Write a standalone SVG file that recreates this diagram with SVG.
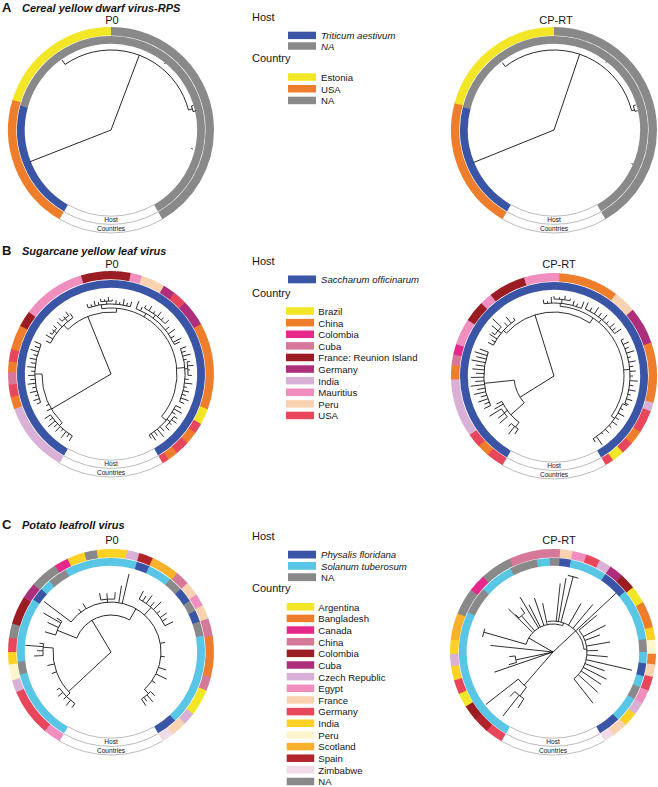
<svg xmlns="http://www.w3.org/2000/svg" width="658" height="787" viewBox="0 0 658 787">
<style>
text{font-family:"Liberation Sans",Arial,Helvetica,sans-serif;fill:#151515}
.pl{font-size:13px;font-weight:bold}
.ttl{font-size:11px;font-weight:bold;font-style:italic}
.sub{font-size:11px;text-anchor:middle}
.hd{font-size:11px}
.lg{font-size:9.6px}
.it{font-style:italic}
.rl{font-size:6.6px;text-anchor:middle}
circle.s{fill:none}
.c{stroke-width:8.4}
.h{stroke-width:7.8}
rect.sw{stroke:none}
.go{fill:none;stroke:#9a9a9a;stroke-width:0.6}
.t line,.t circle{stroke:#1a1a1a;stroke-width:0.85;fill:none}
.bl{stroke:#3b55a6;fill:#3b55a6}
.na{stroke:#898989;fill:#898989}
.yl{stroke:#f2e626;fill:#f2e626}
.or{stroke:#ee7e2b;fill:#ee7e2b}
.pk{stroke:#e6288b;fill:#e6288b}
.dp{stroke:#d6789a;fill:#d6789a}
.dr{stroke:#9b1c23;fill:#9b1c23}
.mg{stroke:#ad2e7a;fill:#ad2e7a}
.li{stroke:#dab1d6;fill:#dab1d6}
.mp{stroke:#ef8ebf;fill:#ef8ebf}
.pe{stroke:#f9d2b2;fill:#f9d2b2}
.rd{stroke:#e8465a;fill:#e8465a}
.cy{stroke:#5ac6e6;fill:#5ac6e6}
.gd{stroke:#fdd225;fill:#fdd225}
.cr{stroke:#fdf5cc;fill:#fdf5cc}
.sc{stroke:#f9b12b;fill:#f9b12b}
.sp{stroke:#b3232c;fill:#b3232c}
.zb{stroke:#f2dbe8;fill:#f2dbe8}
</style>

<!-- Titles -->
<g id="titles">
<text class="pl" x="2" y="12">A</text>
<text class="ttl" x="22" y="12">Cereal yellow dwarf virus-RPS</text>
<text class="sub" x="112" y="24">P0</text>
<text class="sub" x="556" y="23.5">CP-RT</text>
<text class="pl" x="2" y="255">B</text>
<text class="ttl" x="22" y="255">Sugarcane yellow leaf virus</text>
<text class="sub" x="112" y="268">P0</text>
<text class="sub" x="559" y="268">CP-RT</text>
<text class="pl" x="2" y="529">C</text>
<text class="ttl" x="22" y="529">Potato leafroll virus</text>
<text class="sub" x="112" y="544">P0</text>
<text class="sub" x="559" y="543.5">CP-RT</text>
</g>

<!-- Panel A, P0 -->
<g id="a-p0" transform="translate(111,130)">
<circle class="s c or" r="98.8" pathLength="360" stroke-dasharray="77.4 360" transform="rotate(120)"/>
<circle class="s c yl" r="98.8" pathLength="360" stroke-dasharray="73.4 360" transform="rotate(197)"/>
<circle class="s c na" r="98.8" pathLength="360" stroke-dasharray="150 360" transform="rotate(270)"/>
<circle class="s h bl" r="90.1" pathLength="360" stroke-dasharray="75.4 360" transform="rotate(120)"/>
<circle class="s h na" r="90.1" pathLength="360" stroke-dasharray="225 360" transform="rotate(195)"/>
<circle class="go" r="103" pathLength="360" stroke-dasharray="60 360" transform="rotate(60)"/>
<circle class="go" r="94.4" pathLength="360" stroke-dasharray="60 360" transform="rotate(60)"/>
<circle class="go" r="86.2" pathLength="360" stroke-dasharray="60 360" transform="rotate(60)"/>
<text class="rl" x="0" y="92.4">Host</text>
<text class="rl" x="0" y="101.1">Countries</text>
<g class="t">
<line x2="87" transform="rotate(158.6)"/>
<line x2="80" transform="rotate(290.7)"/>
<circle r="80" pathLength="360" stroke-dasharray="110.5 360" transform="rotate(235)"/>
<line x1="80" x2="85.5" transform="rotate(235)"/>
<line x1="80" x2="84" transform="rotate(345.5)"/>
<circle r="84" pathLength="360" stroke-dasharray="3.9 360" transform="rotate(343.4)"/>
<line x1="84" x2="86" transform="rotate(343.4)"/>
<line x1="84" x2="87" transform="rotate(347.3)"/>
<line x1="85" x2="86.5" transform="rotate(309)"/>
<line x1="82.5" x2="84" transform="rotate(13)"/>
</g>
</g>

<!-- Panel A, CP-RT -->
<g id="a-cprt" transform="translate(554,130)">
<circle class="s c or" r="98.8" pathLength="360" stroke-dasharray="75.4 360" transform="rotate(120)"/>
<circle class="s c yl" r="98.8" pathLength="360" stroke-dasharray="75.4 360" transform="rotate(195)"/>
<circle class="s c na" r="98.8" pathLength="360" stroke-dasharray="150 360" transform="rotate(270)"/>
<circle class="s h bl" r="90.1" pathLength="360" stroke-dasharray="74.4 360" transform="rotate(120)"/>
<circle class="s h na" r="90.1" pathLength="360" stroke-dasharray="226 360" transform="rotate(194)"/>
<circle class="go" r="103" pathLength="360" stroke-dasharray="60 360" transform="rotate(60)"/>
<circle class="go" r="94.4" pathLength="360" stroke-dasharray="60 360" transform="rotate(60)"/>
<circle class="go" r="86.2" pathLength="360" stroke-dasharray="60 360" transform="rotate(60)"/>
<text class="rl" x="0" y="92.4">Host</text>
<text class="rl" x="0" y="101.1">Countries</text>
<g class="t">
<line x2="87" transform="rotate(158)"/>
<line x2="80" transform="rotate(288.7)"/>
<circle r="80" pathLength="360" stroke-dasharray="113.5 360" transform="rotate(232.5)"/>
<line x1="80" x2="85" transform="rotate(232.5)"/>
<line x1="80" x2="83" transform="rotate(346)"/>
<circle r="83" pathLength="360" stroke-dasharray="4 360" transform="rotate(343)"/>
<line x1="83" x2="85.5" transform="rotate(343)"/>
<line x1="83" x2="86" transform="rotate(347)"/>
<line x1="85" x2="86.5" transform="rotate(307.6)"/>
<line x1="84.5" x2="86" transform="rotate(23.4)"/>
</g>
</g>

<!-- Legend A -->
<g id="legend-a">
<text class="hd" x="252" y="21">Host</text>
<rect class="sw bl" x="288" y="31.7" width="28" height="7.4"/>
<text class="lg it" x="321" y="39">Triticum aestivum</text>
<rect class="sw na" x="288" y="42.3" width="28" height="7.4"/>
<text class="lg it" x="321" y="49.6">NA</text>
<text class="hd" x="252" y="62">Country</text>
<rect class="sw yl" x="288" y="73.3" width="28" height="7.5"/>
<text class="lg" x="321" y="80.8">Estonia</text>
<rect class="sw or" x="288" y="85" width="28" height="7.5"/>
<text class="lg" x="321" y="92.5">USA</text>
<rect class="sw na" x="288" y="96.7" width="28" height="7.5"/>
<text class="lg" x="321" y="104.2">NA</text>
</g>

<!-- Panel B, P0 -->
<g id="b-p0" transform="translate(111,374)">
<circle class="s c li" r="98.8" pathLength="360" stroke-dasharray="40.4 360" transform="rotate(120)"/>
<circle class="s c or" r="98.8" pathLength="360" stroke-dasharray="7.4 360" transform="rotate(160)"/>
<circle class="s c rd" r="98.8" pathLength="360" stroke-dasharray="7.4 360" transform="rotate(167)"/>
<circle class="s c dp" r="98.8" pathLength="360" stroke-dasharray="7.4 360" transform="rotate(174)"/>
<circle class="s c or" r="98.8" pathLength="360" stroke-dasharray="6.4 360" transform="rotate(181)"/>
<circle class="s c rd" r="98.8" pathLength="360" stroke-dasharray="7.4 360" transform="rotate(187)"/>
<circle class="s c or" r="98.8" pathLength="360" stroke-dasharray="14.4 360" transform="rotate(194)"/>
<circle class="s c dr" r="98.8" pathLength="360" stroke-dasharray="9.4 360" transform="rotate(208)"/>
<circle class="s c mp" r="98.8" pathLength="360" stroke-dasharray="36.4 360" transform="rotate(217)"/>
<circle class="s c dr" r="98.8" pathLength="360" stroke-dasharray="28.4 360" transform="rotate(253)"/>
<circle class="s c mp" r="98.8" pathLength="360" stroke-dasharray="6.9 360" transform="rotate(281)"/>
<circle class="s c pe" r="98.8" pathLength="360" stroke-dasharray="13.9 360" transform="rotate(287.5)"/>
<circle class="s c mg" r="98.8" pathLength="360" stroke-dasharray="7.4 360" transform="rotate(301)"/>
<circle class="s c rd" r="98.8" pathLength="360" stroke-dasharray="8.4 360" transform="rotate(308)"/>
<circle class="s c mg" r="98.8" pathLength="360" stroke-dasharray="15.4 360" transform="rotate(316)"/>
<circle class="s c or" r="98.8" pathLength="360" stroke-dasharray="49.4 360" transform="rotate(331)"/>
<circle class="s c yl" r="98.8" pathLength="360" stroke-dasharray="9.4 360" transform="rotate(20)"/>
<circle class="s c rd" r="98.8" pathLength="360" stroke-dasharray="6.4 360" transform="rotate(29)"/>
<circle class="s c or" r="98.8" pathLength="360" stroke-dasharray="7.4 360" transform="rotate(35)"/>
<circle class="s c rd" r="98.8" pathLength="360" stroke-dasharray="8.4 360" transform="rotate(42)"/>
<circle class="s c or" r="98.8" pathLength="360" stroke-dasharray="6.4 360" transform="rotate(50)"/>
<circle class="s c rd" r="98.8" pathLength="360" stroke-dasharray="4 360" transform="rotate(56)"/>
<circle class="s h bl" r="90.1" pathLength="360" stroke-dasharray="300 360" transform="rotate(120)"/>
<circle class="go" r="103" pathLength="360" stroke-dasharray="60 360" transform="rotate(60)"/>
<circle class="go" r="94.4" pathLength="360" stroke-dasharray="60 360" transform="rotate(60)"/>
<circle class="go" r="86.2" pathLength="360" stroke-dasharray="60 360" transform="rotate(60)"/>
<text class="rl" x="0" y="92.4">Host</text>
<text class="rl" x="0" y="101.1">Countries</text>
<g class="t">
<line x2="62" transform="rotate(248)"/>
<line x2="69" transform="rotate(149.5)"/>
<circle r="62" pathLength="360" stroke-dasharray="49 360" transform="rotate(226)"/>
<line x1="62" x2="68" transform="rotate(226)"/>
<circle r="68" pathLength="360" stroke-dasharray="29 360" transform="rotate(207)"/>
<line x1="68" x2="73" transform="rotate(207)"/>
<line x1="68" x2="76" transform="rotate(211)"/>
<line x1="68" x2="71" transform="rotate(217)"/>
<line x1="68" x2="75" transform="rotate(224)"/>
<line x1="68" x2="72" transform="rotate(230.5)"/>
<line x1="68" x2="73" transform="rotate(236)"/>
<circle r="71" pathLength="360" stroke-dasharray="6 360" transform="rotate(214)"/>
<line x1="71" x2="74" transform="rotate(214)"/>
<line x1="71" x2="73.5" transform="rotate(217)"/>
<line x1="71" x2="75" transform="rotate(220)"/>
<circle r="72" pathLength="360" stroke-dasharray="7 360" transform="rotate(227)"/>
<line x1="72" x2="76" transform="rotate(227)"/>
<line x1="72" x2="74.5" transform="rotate(230.5)"/>
<line x1="72" x2="77" transform="rotate(234)"/>
<line x1="62" x2="66" transform="rotate(275)"/>
<circle r="66" pathLength="360" stroke-dasharray="138 360" transform="rotate(262)"/>
<line x1="66" x2="70" transform="rotate(262)"/>
<circle r="70" pathLength="360" stroke-dasharray="35 360" transform="rotate(251)"/>
<line x1="70" x2="74" transform="rotate(251)"/>
<line x1="70" x2="72.5" transform="rotate(254)"/>
<line x1="70" x2="75" transform="rotate(257)"/>
<line x1="70" x2="73" transform="rotate(260)"/>
<line x1="70" x2="73" transform="rotate(266.5)"/>
<line x1="70" x2="74" transform="rotate(274)"/>
<line x1="70" x2="72.5" transform="rotate(277)"/>
<line x1="70" x2="76" transform="rotate(280)"/>
<line x1="70" x2="73" transform="rotate(283)"/>
<line x1="70" x2="75" transform="rotate(286)"/>
<circle r="73" pathLength="360" stroke-dasharray="9 360" transform="rotate(262)"/>
<line x1="73" x2="76" transform="rotate(262)"/>
<line x1="73" x2="75" transform="rotate(265)"/>
<line x1="73" x2="77" transform="rotate(268)"/>
<line x1="73" x2="74.5" transform="rotate(271)"/>
<line x1="66" x2="70" transform="rotate(300)"/>
<circle r="70" pathLength="360" stroke-dasharray="44 360" transform="rotate(291)"/>
<line x1="70" x2="78" transform="rotate(291)"/>
<line x1="70" x2="74" transform="rotate(295)"/>
<line x1="70" x2="74" transform="rotate(307)"/>
<line x1="70" x2="75" transform="rotate(321)"/>
<line x1="70" x2="78" transform="rotate(325)"/>
<line x1="70" x2="74" transform="rotate(329)"/>
<line x1="70" x2="79" transform="rotate(333)"/>
<line x1="70" x2="76" transform="rotate(335)"/>
<circle r="74" pathLength="360" stroke-dasharray="20 360" transform="rotate(297)"/>
<line x1="74" x2="77" transform="rotate(297)"/>
<line x1="74" x2="79" transform="rotate(301)"/>
<line x1="74" x2="76.5" transform="rotate(305)"/>
<line x1="74" x2="80" transform="rotate(309)"/>
<line x1="74" x2="77" transform="rotate(313)"/>
<line x1="74" x2="79" transform="rotate(317)"/>
<line x1="66" x2="74" transform="rotate(355)"/>
<circle r="74" pathLength="360" stroke-dasharray="42 360" transform="rotate(340)"/>
<line x1="74" x2="80" transform="rotate(340)"/>
<line x1="74" x2="78" transform="rotate(343)"/>
<line x1="74" x2="82" transform="rotate(346)"/>
<line x1="74" x2="77" transform="rotate(349)"/>
<line x1="74" x2="77" transform="rotate(356)"/>
<line x1="74" x2="78" transform="rotate(4)"/>
<line x1="74" x2="82" transform="rotate(7)"/>
<line x1="74" x2="77" transform="rotate(10)"/>
<line x1="74" x2="80" transform="rotate(13)"/>
<line x1="74" x2="78" transform="rotate(16)"/>
<line x1="74" x2="82" transform="rotate(19)"/>
<line x1="74" x2="79" transform="rotate(22)"/>
<circle r="77" pathLength="360" stroke-dasharray="10 360" transform="rotate(351)"/>
<line x1="77" x2="80" transform="rotate(351)"/>
<line x1="77" x2="83" transform="rotate(354)"/>
<line x1="77" x2="79" transform="rotate(357)"/>
<line x1="77" x2="81" transform="rotate(1)"/>
<line x1="66" x2="72" transform="rotate(40)"/>
<circle r="72" pathLength="360" stroke-dasharray="32 360" transform="rotate(26)"/>
<line x1="72" x2="78" transform="rotate(26)"/>
<line x1="72" x2="81" transform="rotate(29)"/>
<line x1="72" x2="76" transform="rotate(32)"/>
<line x1="72" x2="76" transform="rotate(39)"/>
<line x1="72" x2="78" transform="rotate(47)"/>
<line x1="72" x2="82" transform="rotate(50)"/>
<line x1="72" x2="77" transform="rotate(53)"/>
<line x1="72" x2="80" transform="rotate(56)"/>
<line x1="72" x2="76" transform="rotate(58)"/>
<circle r="76" pathLength="360" stroke-dasharray="10 360" transform="rotate(34)"/>
<line x1="76" x2="80" transform="rotate(34)"/>
<line x1="76" x2="82" transform="rotate(37)"/>
<line x1="76" x2="79" transform="rotate(40)"/>
<line x1="76" x2="81" transform="rotate(44)"/>
<circle r="69" pathLength="360" stroke-dasharray="45 360" transform="rotate(135)"/>
<line x1="69" x2="76" transform="rotate(180)"/>
<circle r="76" pathLength="360" stroke-dasharray="45 360" transform="rotate(158)"/>
<line x1="76" x2="80" transform="rotate(158)"/>
<line x1="76" x2="82" transform="rotate(161)"/>
<line x1="76" x2="79" transform="rotate(164)"/>
<line x1="76" x2="83" transform="rotate(167)"/>
<line x1="76" x2="80" transform="rotate(170)"/>
<line x1="76" x2="84" transform="rotate(173)"/>
<line x1="76" x2="81" transform="rotate(176)"/>
<line x1="76" x2="83" transform="rotate(179)"/>
<line x1="76" x2="80" transform="rotate(182)"/>
<line x1="76" x2="84" transform="rotate(185)"/>
<line x1="76" x2="81" transform="rotate(188)"/>
<line x1="76" x2="83" transform="rotate(191)"/>
<line x1="76" x2="80" transform="rotate(194)"/>
<line x1="76" x2="84" transform="rotate(197)"/>
<line x1="76" x2="81" transform="rotate(200)"/>
<line x1="76" x2="83" transform="rotate(203)"/>
<line x1="69" x2="73" transform="rotate(135)"/>
<circle r="73" pathLength="360" stroke-dasharray="24 360" transform="rotate(122)"/>
<line x1="73" x2="79" transform="rotate(122)"/>
<line x1="73" x2="77" transform="rotate(125)"/>
<line x1="73" x2="81" transform="rotate(128)"/>
<line x1="73" x2="76" transform="rotate(131)"/>
<line x1="73" x2="80" transform="rotate(134)"/>
<line x1="73" x2="78" transform="rotate(137)"/>
<line x1="73" x2="82" transform="rotate(140)"/>
<line x1="73" x2="77" transform="rotate(143)"/>
<line x1="73" x2="80" transform="rotate(146)"/>
<line x1="69" x2="74" transform="rotate(150)"/>
<line x1="69" x2="72" transform="rotate(154)"/>
</g>
</g>

<!-- Panel B, CP-RT -->
<g id="b-cprt" transform="translate(554,376)">
<circle class="s c rd" r="98.8" pathLength="360" stroke-dasharray="10.4 360" transform="rotate(120)"/>
<circle class="s c or" r="98.8" pathLength="360" stroke-dasharray="7.4 360" transform="rotate(130)"/>
<circle class="s c rd" r="98.8" pathLength="360" stroke-dasharray="8.4 360" transform="rotate(137)"/>
<circle class="s c li" r="98.8" pathLength="360" stroke-dasharray="33.4 360" transform="rotate(145)"/>
<circle class="s c or" r="98.8" pathLength="360" stroke-dasharray="8.4 360" transform="rotate(178)"/>
<circle class="s c dp" r="98.8" pathLength="360" stroke-dasharray="6.4 360" transform="rotate(186)"/>
<circle class="s c pk" r="98.8" pathLength="360" stroke-dasharray="6.4 360" transform="rotate(192)"/>
<circle class="s c mp" r="98.8" pathLength="360" stroke-dasharray="15.4 360" transform="rotate(198)"/>
<circle class="s c dr" r="98.8" pathLength="360" stroke-dasharray="12.4 360" transform="rotate(213)"/>
<circle class="s c mp" r="98.8" pathLength="360" stroke-dasharray="7.4 360" transform="rotate(225)"/>
<circle class="s c dr" r="98.8" pathLength="360" stroke-dasharray="21.4 360" transform="rotate(232)"/>
<circle class="s c mp" r="98.8" pathLength="360" stroke-dasharray="20.4 360" transform="rotate(253)"/>
<circle class="s c or" r="98.8" pathLength="360" stroke-dasharray="34.4 360" transform="rotate(273)"/>
<circle class="s c pe" r="98.8" pathLength="360" stroke-dasharray="13.4 360" transform="rotate(307)"/>
<circle class="s c mg" r="98.8" pathLength="360" stroke-dasharray="21.4 360" transform="rotate(320)"/>
<circle class="s c or" r="98.8" pathLength="360" stroke-dasharray="34.4 360" transform="rotate(341)"/>
<circle class="s c li" r="98.8" pathLength="360" stroke-dasharray="5.4 360" transform="rotate(15)"/>
<circle class="s c rd" r="98.8" pathLength="360" stroke-dasharray="13.4 360" transform="rotate(20)"/>
<circle class="s c or" r="98.8" pathLength="360" stroke-dasharray="8.4 360" transform="rotate(33)"/>
<circle class="s c rd" r="98.8" pathLength="360" stroke-dasharray="7.4 360" transform="rotate(41)"/>
<circle class="s c yl" r="98.8" pathLength="360" stroke-dasharray="7.4 360" transform="rotate(48)"/>
<circle class="s c rd" r="98.8" pathLength="360" stroke-dasharray="5 360" transform="rotate(55)"/>
<circle class="s h bl" r="90.1" pathLength="360" stroke-dasharray="300 360" transform="rotate(120)"/>
<circle class="go" r="103" pathLength="360" stroke-dasharray="60 360" transform="rotate(60)"/>
<circle class="go" r="94.4" pathLength="360" stroke-dasharray="60 360" transform="rotate(60)"/>
<circle class="go" r="86.2" pathLength="360" stroke-dasharray="60 360" transform="rotate(60)"/>
<text class="rl" x="0" y="92.4">Host</text>
<text class="rl" x="0" y="101.1">Countries</text>
<g class="t">
<line x2="64" transform="rotate(252.7)"/>
<line x2="40" transform="rotate(148)"/>
<circle r="40" pathLength="360" stroke-dasharray="36 360" transform="rotate(138)"/>
<line x1="40" x2="58" transform="rotate(138)"/>
<circle r="58" pathLength="360" stroke-dasharray="27 360" transform="rotate(127)"/>
<line x1="58" x2="64" transform="rotate(127)"/>
<circle r="64" pathLength="360" stroke-dasharray="8 360" transform="rotate(124)"/>
<line x1="64" x2="70" transform="rotate(124)"/>
<line x1="64" x2="74" transform="rotate(128)"/>
<line x1="64" x2="68" transform="rotate(132)"/>
<line x1="58" x2="62" transform="rotate(143.5)"/>
<circle r="62" pathLength="360" stroke-dasharray="9 360" transform="rotate(139)"/>
<line x1="62" x2="72" transform="rotate(139)"/>
<line x1="62" x2="70" transform="rotate(143)"/>
<line x1="62" x2="76" transform="rotate(148)"/>
<line x1="58" x2="68" transform="rotate(151)"/>
<line x1="58" x2="64" transform="rotate(154)"/>
<line x1="40" x2="70" transform="rotate(174)"/>
<circle r="70" pathLength="360" stroke-dasharray="45 360" transform="rotate(155)"/>
<line x1="70" x2="77" transform="rotate(155)"/>
<line x1="70" x2="75" transform="rotate(158)"/>
<line x1="70" x2="80" transform="rotate(161)"/>
<line x1="70" x2="76" transform="rotate(164)"/>
<line x1="70" x2="82" transform="rotate(167)"/>
<line x1="70" x2="78" transform="rotate(170)"/>
<line x1="70" x2="84" transform="rotate(173)"/>
<line x1="70" x2="79" transform="rotate(176)"/>
<line x1="70" x2="83" transform="rotate(179)"/>
<line x1="70" x2="78" transform="rotate(182)"/>
<line x1="70" x2="82" transform="rotate(185)"/>
<line x1="70" x2="79" transform="rotate(188)"/>
<line x1="70" x2="84" transform="rotate(191)"/>
<line x1="70" x2="80" transform="rotate(194)"/>
<line x1="70" x2="83" transform="rotate(197)"/>
<line x1="70" x2="79" transform="rotate(200)"/>
<circle r="64" pathLength="360" stroke-dasharray="82 360" transform="rotate(222)"/>
<line x1="64" x2="68" transform="rotate(222)"/>
<circle r="68" pathLength="360" stroke-dasharray="28 360" transform="rotate(207)"/>
<line x1="68" x2="74" transform="rotate(207)"/>
<line x1="68" x2="72" transform="rotate(210)"/>
<line x1="68" x2="77" transform="rotate(213)"/>
<line x1="68" x2="72" transform="rotate(219)"/>
<line x1="68" x2="73" transform="rotate(227)"/>
<line x1="68" x2="76" transform="rotate(231)"/>
<line x1="68" x2="71" transform="rotate(235)"/>
<circle r="72" pathLength="360" stroke-dasharray="8 360" transform="rotate(215)"/>
<line x1="72" x2="76" transform="rotate(215)"/>
<line x1="72" x2="80" transform="rotate(219)"/>
<line x1="72" x2="84" transform="rotate(223)"/>
<line x1="64" x2="70" transform="rotate(304)"/>
<circle r="70" pathLength="360" stroke-dasharray="120 360" transform="rotate(275)"/>
<line x1="70" x2="73" transform="rotate(275)"/>
<circle r="73" pathLength="360" stroke-dasharray="30 360" transform="rotate(262)"/>
<line x1="73" x2="77" transform="rotate(262)"/>
<line x1="73" x2="75" transform="rotate(265)"/>
<line x1="73" x2="79" transform="rotate(268)"/>
<line x1="73" x2="77" transform="rotate(276)"/>
<line x1="73" x2="78" transform="rotate(285)"/>
<line x1="73" x2="76" transform="rotate(288)"/>
<line x1="73" x2="80" transform="rotate(292)"/>
<circle r="77" pathLength="360" stroke-dasharray="12 360" transform="rotate(270)"/>
<line x1="77" x2="80" transform="rotate(270)"/>
<line x1="77" x2="79" transform="rotate(274)"/>
<line x1="77" x2="81" transform="rotate(278)"/>
<line x1="77" x2="79" transform="rotate(282)"/>
<line x1="70" x2="74" transform="rotate(310)"/>
<circle r="74" pathLength="360" stroke-dasharray="30 360" transform="rotate(295)"/>
<line x1="74" x2="81" transform="rotate(295)"/>
<line x1="74" x2="78" transform="rotate(299)"/>
<line x1="74" x2="82" transform="rotate(303)"/>
<line x1="74" x2="79" transform="rotate(307)"/>
<line x1="74" x2="81" transform="rotate(311)"/>
<line x1="74" x2="77" transform="rotate(315)"/>
<line x1="74" x2="80" transform="rotate(319)"/>
<line x1="74" x2="78" transform="rotate(322)"/>
<line x1="74" x2="82" transform="rotate(325)"/>
<line x1="70" x2="76" transform="rotate(355)"/>
<circle r="76" pathLength="360" stroke-dasharray="49 360" transform="rotate(332)"/>
<line x1="76" x2="79" transform="rotate(332)"/>
<line x1="76" x2="82" transform="rotate(335.5)"/>
<line x1="76" x2="80" transform="rotate(339)"/>
<line x1="76" x2="84" transform="rotate(342.5)"/>
<line x1="76" x2="79" transform="rotate(346)"/>
<line x1="76" x2="83" transform="rotate(349.5)"/>
<line x1="76" x2="80" transform="rotate(353)"/>
<line x1="76" x2="82" transform="rotate(356.5)"/>
<line x1="76" x2="79" transform="rotate(0)"/>
<line x1="76" x2="84" transform="rotate(3.5)"/>
<line x1="76" x2="80" transform="rotate(7)"/>
<line x1="76" x2="83" transform="rotate(10.5)"/>
<line x1="76" x2="79" transform="rotate(14)"/>
<line x1="76" x2="82" transform="rotate(17.5)"/>
<line x1="76" x2="80" transform="rotate(21)"/>
<line x1="70" x2="74" transform="rotate(35)"/>
<circle r="74" pathLength="360" stroke-dasharray="36 360" transform="rotate(22)"/>
<line x1="74" x2="79" transform="rotate(22)"/>
<line x1="74" x2="77" transform="rotate(26)"/>
<line x1="74" x2="81" transform="rotate(30)"/>
<line x1="74" x2="78" transform="rotate(34)"/>
<line x1="74" x2="80" transform="rotate(38)"/>
<line x1="74" x2="77" transform="rotate(42)"/>
<line x1="74" x2="79" transform="rotate(46)"/>
<line x1="74" x2="76" transform="rotate(50)"/>
<line x1="74" x2="84" transform="rotate(55)"/>
<line x1="74" x2="78" transform="rotate(58)"/>
</g>
</g>

<!-- Legend B -->
<g id="legend-b">
<text class="hd" x="252" y="265">Host</text>
<rect class="sw bl" x="288" y="275.5" width="28" height="7.8"/>
<text class="lg it" x="321" y="283.3">Saccharum officinarum</text>
<text class="hd" x="252" y="297">Country</text>
<rect class="sw yl" x="286" y="307.3" width="28" height="7.5"/>
<text class="lg" x="318.3" y="314.9">Brazil</text>
<rect class="sw or" x="286" y="318.9" width="28" height="7.5"/>
<text class="lg" x="318.3" y="326.5">China</text>
<rect class="sw pk" x="286" y="330.5" width="28" height="7.5"/>
<text class="lg" x="318.3" y="338.1">Colombia</text>
<rect class="sw dp" x="286" y="342.1" width="28" height="7.5"/>
<text class="lg" x="318.3" y="349.7">Cuba</text>
<rect class="sw dr" x="286" y="353.7" width="28" height="7.5"/>
<text class="lg" x="318.3" y="361.3">France: Reunion Island</text>
<rect class="sw mg" x="286" y="365.3" width="28" height="7.5"/>
<text class="lg" x="318.3" y="372.9">Germany</text>
<rect class="sw li" x="286" y="376.9" width="28" height="7.5"/>
<text class="lg" x="318.3" y="384.5">India</text>
<rect class="sw mp" x="286" y="388.5" width="28" height="7.5"/>
<text class="lg" x="318.3" y="396.1">Mauritius</text>
<rect class="sw pe" x="286" y="400.1" width="28" height="7.5"/>
<text class="lg" x="318.3" y="407.7">Peru</text>
<rect class="sw rd" x="286" y="411.7" width="28" height="7.5"/>
<text class="lg" x="318.3" y="419.3">USA</text>
</g>

<!-- Panel C, P0 -->
<g id="c-p0" transform="translate(111,652)">
<circle class="s c mp" r="98.8" pathLength="360" stroke-dasharray="10.4 360" transform="rotate(120)"/>
<circle class="s c rd" r="98.8" pathLength="360" stroke-dasharray="27.4 360" transform="rotate(130)"/>
<circle class="s c li" r="98.8" pathLength="360" stroke-dasharray="7.4 360" transform="rotate(157)"/>
<circle class="s c cr" r="98.8" pathLength="360" stroke-dasharray="9.4 360" transform="rotate(164)"/>
<circle class="s c gd" r="98.8" pathLength="360" stroke-dasharray="7.4 360" transform="rotate(173)"/>
<circle class="s c rd" r="98.8" pathLength="360" stroke-dasharray="8.4 360" transform="rotate(180)"/>
<circle class="s c na" r="98.8" pathLength="360" stroke-dasharray="8.4 360" transform="rotate(188)"/>
<circle class="s c dr" r="98.8" pathLength="360" stroke-dasharray="16.4 360" transform="rotate(196)"/>
<circle class="s c mg" r="98.8" pathLength="360" stroke-dasharray="9.4 360" transform="rotate(212)"/>
<circle class="s c na" r="98.8" pathLength="360" stroke-dasharray="16.4 360" transform="rotate(221)"/>
<circle class="s c pk" r="98.8" pathLength="360" stroke-dasharray="8.4 360" transform="rotate(237)"/>
<circle class="s c gd" r="98.8" pathLength="360" stroke-dasharray="10.4 360" transform="rotate(245)"/>
<circle class="s c na" r="98.8" pathLength="360" stroke-dasharray="7.4 360" transform="rotate(255)"/>
<circle class="s c gd" r="98.8" pathLength="360" stroke-dasharray="17.4 360" transform="rotate(262)"/>
<circle class="s c li" r="98.8" pathLength="360" stroke-dasharray="7.4 360" transform="rotate(279)"/>
<circle class="s c sp" r="98.8" pathLength="360" stroke-dasharray="8.4 360" transform="rotate(286)"/>
<circle class="s c sc" r="98.8" pathLength="360" stroke-dasharray="16.4 360" transform="rotate(294)"/>
<circle class="s c dp" r="98.8" pathLength="360" stroke-dasharray="8.4 360" transform="rotate(310)"/>
<circle class="s c pe" r="98.8" pathLength="360" stroke-dasharray="8.4 360" transform="rotate(318)"/>
<circle class="s c mp" r="98.8" pathLength="360" stroke-dasharray="7.4 360" transform="rotate(326)"/>
<circle class="s c pe" r="98.8" pathLength="360" stroke-dasharray="8.4 360" transform="rotate(333)"/>
<circle class="s c dp" r="98.8" pathLength="360" stroke-dasharray="10.4 360" transform="rotate(341)"/>
<circle class="s c or" r="98.8" pathLength="360" stroke-dasharray="23.4 360" transform="rotate(351)"/>
<circle class="s c dp" r="98.8" pathLength="360" stroke-dasharray="8.4 360" transform="rotate(14)"/>
<circle class="s c yl" r="98.8" pathLength="360" stroke-dasharray="15.4 360" transform="rotate(22)"/>
<circle class="s c li" r="98.8" pathLength="360" stroke-dasharray="7.4 360" transform="rotate(37)"/>
<circle class="s c pe" r="98.8" pathLength="360" stroke-dasharray="9.4 360" transform="rotate(44)"/>
<circle class="s c zb" r="98.8" pathLength="360" stroke-dasharray="7 360" transform="rotate(53)"/>
<circle class="s h cy" r="90.1" pathLength="360" stroke-dasharray="46.4 360" transform="rotate(120)"/>
<circle class="s h na" r="90.1" pathLength="360" stroke-dasharray="8.4 360" transform="rotate(166)"/>
<circle class="s h cy" r="90.1" pathLength="360" stroke-dasharray="40.4 360" transform="rotate(174)"/>
<circle class="s h bl" r="90.1" pathLength="360" stroke-dasharray="8.4 360" transform="rotate(214)"/>
<circle class="s h cy" r="90.1" pathLength="360" stroke-dasharray="7.4 360" transform="rotate(222)"/>
<circle class="s h na" r="90.1" pathLength="360" stroke-dasharray="12.4 360" transform="rotate(229)"/>
<circle class="s h cy" r="90.1" pathLength="360" stroke-dasharray="45.4 360" transform="rotate(241)"/>
<circle class="s h bl" r="90.1" pathLength="360" stroke-dasharray="8.4 360" transform="rotate(286)"/>
<circle class="s h cy" r="90.1" pathLength="360" stroke-dasharray="15.4 360" transform="rotate(294)"/>
<circle class="s h na" r="90.1" pathLength="360" stroke-dasharray="9.4 360" transform="rotate(309)"/>
<circle class="s h bl" r="90.1" pathLength="360" stroke-dasharray="9.4 360" transform="rotate(318)"/>
<circle class="s h na" r="90.1" pathLength="360" stroke-dasharray="7.4 360" transform="rotate(327)"/>
<circle class="s h bl" r="90.1" pathLength="360" stroke-dasharray="7.4 360" transform="rotate(334)"/>
<circle class="s h na" r="90.1" pathLength="360" stroke-dasharray="9.4 360" transform="rotate(341)"/>
<circle class="s h cy" r="90.1" pathLength="360" stroke-dasharray="57.4 360" transform="rotate(350)"/>
<circle class="s h bl" r="90.1" pathLength="360" stroke-dasharray="13 360" transform="rotate(47)"/>
<circle class="go" r="103" pathLength="360" stroke-dasharray="60 360" transform="rotate(60)"/>
<circle class="go" r="94.4" pathLength="360" stroke-dasharray="60 360" transform="rotate(60)"/>
<circle class="go" r="86.2" pathLength="360" stroke-dasharray="60 360" transform="rotate(60)"/>
<text class="rl" x="0" y="92.4">Host</text>
<text class="rl" x="0" y="101.1">Countries</text>
<g class="t">
<line x2="37" transform="rotate(239)"/>
<circle r="37" pathLength="360" stroke-dasharray="98 360" transform="rotate(202)"/>
<line x1="37" x2="58" transform="rotate(202)"/>
<circle r="58" pathLength="360" stroke-dasharray="15 360" transform="rotate(197)"/>
<line x1="58" x2="69" transform="rotate(197)"/>
<line x1="58" x2="70" transform="rotate(205)"/>
<line x1="58" x2="78" transform="rotate(210)"/>
<line x1="58" x2="64" transform="rotate(212)"/>
<line x1="37" x2="50" transform="rotate(300)"/>
<circle r="50" pathLength="360" stroke-dasharray="191 360" transform="rotate(217)"/>
<line x1="50" x2="84" transform="rotate(217)"/>
<line x1="50" x2="54" transform="rotate(233)"/>
<line x1="50" x2="56" transform="rotate(240)"/>
<line x1="50" x2="53" transform="rotate(266)"/>
<circle r="53" pathLength="360" stroke-dasharray="15 360" transform="rotate(259)"/>
<line x1="53" x2="60" transform="rotate(259)"/>
<line x1="53" x2="59" transform="rotate(266)"/>
<line x1="53" x2="60" transform="rotate(274)"/>
<line x1="50" x2="67" transform="rotate(279)"/>
<line x1="50" x2="80" transform="rotate(283)"/>
<line x1="50" x2="60" transform="rotate(312)"/>
<circle r="60" pathLength="360" stroke-dasharray="36 360" transform="rotate(298)"/>
<line x1="60" x2="69" transform="rotate(298)"/>
<line x1="60" x2="66" transform="rotate(302)"/>
<line x1="60" x2="70" transform="rotate(306)"/>
<line x1="60" x2="66" transform="rotate(311)"/>
<line x1="60" x2="71" transform="rotate(315)"/>
<line x1="60" x2="64" transform="rotate(320)"/>
<line x1="60" x2="68" transform="rotate(325)"/>
<line x1="60" x2="65" transform="rotate(329)"/>
<line x1="60" x2="69" transform="rotate(334)"/>
<line x1="50" x2="55" transform="rotate(350)"/>
<line x1="50" x2="54" transform="rotate(5)"/>
<line x1="50" x2="58" transform="rotate(18)"/>
<line x1="50" x2="62" transform="rotate(26)"/>
<line x1="50" x2="54" transform="rotate(35)"/>
<line x1="50" x2="56" transform="rotate(48)"/>
<circle r="56" pathLength="360" stroke-dasharray="12 360" transform="rotate(45)"/>
<line x1="56" x2="62" transform="rotate(45)"/>
<line x1="56" x2="65" transform="rotate(50)"/>
<line x1="56" x2="61" transform="rotate(54)"/>
<line x1="56" x2="64" transform="rotate(57)"/>
<line x2="58" transform="rotate(137)"/>
<circle r="58" pathLength="360" stroke-dasharray="49 360" transform="rotate(135)"/>
<line x1="58" x2="68" transform="rotate(184)"/>
<circle r="68" pathLength="360" stroke-dasharray="10 360" transform="rotate(177)"/>
<line x1="68" x2="77" transform="rotate(177)"/>
<line x1="68" x2="74" transform="rotate(181)"/>
<line x1="68" x2="86" transform="rotate(184.5)"/>
<line x1="68" x2="72" transform="rotate(187)"/>
<line x1="58" x2="63" transform="rotate(135)"/>
<circle r="63" pathLength="360" stroke-dasharray="20 360" transform="rotate(125)"/>
<line x1="63" x2="68" transform="rotate(125)"/>
<line x1="63" x2="70" transform="rotate(130)"/>
<line x1="63" x2="67" transform="rotate(135)"/>
<line x1="63" x2="69" transform="rotate(140)"/>
<line x1="63" x2="66" transform="rotate(145)"/>
<line x1="58" x2="63" transform="rotate(160)"/>
<line x1="58" x2="65" transform="rotate(168)"/>
</g>
</g>

<!-- Panel C, CP-RT -->
<g id="c-cprt" transform="translate(553,652)">
<circle class="s c rd" r="98.8" pathLength="360" stroke-dasharray="10.4 360" transform="rotate(120)"/>
<circle class="s c sp" r="98.8" pathLength="360" stroke-dasharray="9.4 360" transform="rotate(130)"/>
<circle class="s c dr" r="98.8" pathLength="360" stroke-dasharray="9.4 360" transform="rotate(139)"/>
<circle class="s c yl" r="98.8" pathLength="360" stroke-dasharray="8.4 360" transform="rotate(148)"/>
<circle class="s c rd" r="98.8" pathLength="360" stroke-dasharray="8.4 360" transform="rotate(156)"/>
<circle class="s c gd" r="98.8" pathLength="360" stroke-dasharray="8.4 360" transform="rotate(164)"/>
<circle class="s c li" r="98.8" pathLength="360" stroke-dasharray="7.4 360" transform="rotate(172)"/>
<circle class="s c gd" r="98.8" pathLength="360" stroke-dasharray="8.4 360" transform="rotate(179)"/>
<circle class="s c sc" r="98.8" pathLength="360" stroke-dasharray="15.4 360" transform="rotate(187)"/>
<circle class="s c na" r="98.8" pathLength="360" stroke-dasharray="15.4 360" transform="rotate(202)"/>
<circle class="s c pk" r="98.8" pathLength="360" stroke-dasharray="10.4 360" transform="rotate(217)"/>
<circle class="s c na" r="98.8" pathLength="360" stroke-dasharray="18.4 360" transform="rotate(227)"/>
<circle class="s c dp" r="98.8" pathLength="360" stroke-dasharray="29.4 360" transform="rotate(245)"/>
<circle class="s c pe" r="98.8" pathLength="360" stroke-dasharray="7.4 360" transform="rotate(274)"/>
<circle class="s c mp" r="98.8" pathLength="360" stroke-dasharray="8.4 360" transform="rotate(281)"/>
<circle class="s c rd" r="98.8" pathLength="360" stroke-dasharray="8.4 360" transform="rotate(289)"/>
<circle class="s c li" r="98.8" pathLength="360" stroke-dasharray="7.4 360" transform="rotate(297)"/>
<circle class="s c mg" r="98.8" pathLength="360" stroke-dasharray="8.4 360" transform="rotate(304)"/>
<circle class="s c dr" r="98.8" pathLength="360" stroke-dasharray="9.4 360" transform="rotate(312)"/>
<circle class="s c yl" r="98.8" pathLength="360" stroke-dasharray="10.4 360" transform="rotate(321)"/>
<circle class="s c or" r="98.8" pathLength="360" stroke-dasharray="15.4 360" transform="rotate(331)"/>
<circle class="s c gd" r="98.8" pathLength="360" stroke-dasharray="7.4 360" transform="rotate(346)"/>
<circle class="s c cr" r="98.8" pathLength="360" stroke-dasharray="8.4 360" transform="rotate(353)"/>
<circle class="s c or" r="98.8" pathLength="360" stroke-dasharray="6.4 360" transform="rotate(1)"/>
<circle class="s c pe" r="98.8" pathLength="360" stroke-dasharray="7.4 360" transform="rotate(7)"/>
<circle class="s c rd" r="98.8" pathLength="360" stroke-dasharray="8.4 360" transform="rotate(14)"/>
<circle class="s c mp" r="98.8" pathLength="360" stroke-dasharray="8.4 360" transform="rotate(22)"/>
<circle class="s c li" r="98.8" pathLength="360" stroke-dasharray="7.4 360" transform="rotate(30)"/>
<circle class="s c gd" r="98.8" pathLength="360" stroke-dasharray="8.4 360" transform="rotate(37)"/>
<circle class="s c pe" r="98.8" pathLength="360" stroke-dasharray="9.4 360" transform="rotate(45)"/>
<circle class="s c zb" r="98.8" pathLength="360" stroke-dasharray="6 360" transform="rotate(54)"/>
<circle class="s h cy" r="90.1" pathLength="360" stroke-dasharray="85.4 360" transform="rotate(120)"/>
<circle class="s h na" r="90.1" pathLength="360" stroke-dasharray="17.4 360" transform="rotate(205)"/>
<circle class="s h cy" r="90.1" pathLength="360" stroke-dasharray="21.4 360" transform="rotate(222)"/>
<circle class="s h na" r="90.1" pathLength="360" stroke-dasharray="17.4 360" transform="rotate(243)"/>
<circle class="s h cy" r="90.1" pathLength="360" stroke-dasharray="8.4 360" transform="rotate(260)"/>
<circle class="s h na" r="90.1" pathLength="360" stroke-dasharray="6.4 360" transform="rotate(268)"/>
<circle class="s h bl" r="90.1" pathLength="360" stroke-dasharray="7.4 360" transform="rotate(274)"/>
<circle class="s h cy" r="90.1" pathLength="360" stroke-dasharray="23.4 360" transform="rotate(281)"/>
<circle class="s h bl" r="90.1" pathLength="360" stroke-dasharray="16.4 360" transform="rotate(304)"/>
<circle class="s h cy" r="90.1" pathLength="360" stroke-dasharray="32.4 360" transform="rotate(320)"/>
<circle class="s h na" r="90.1" pathLength="360" stroke-dasharray="8.4 360" transform="rotate(352)"/>
<circle class="s h cy" r="90.1" pathLength="360" stroke-dasharray="7.4 360" transform="rotate(0)"/>
<circle class="s h bl" r="90.1" pathLength="360" stroke-dasharray="8.4 360" transform="rotate(7)"/>
<circle class="s h cy" r="90.1" pathLength="360" stroke-dasharray="7.4 360" transform="rotate(15)"/>
<circle class="s h na" r="90.1" pathLength="360" stroke-dasharray="8.4 360" transform="rotate(22)"/>
<circle class="s h cy" r="90.1" pathLength="360" stroke-dasharray="16.4 360" transform="rotate(30)"/>
<circle class="s h bl" r="90.1" pathLength="360" stroke-dasharray="14 360" transform="rotate(46)"/>
<circle class="go" r="103" pathLength="360" stroke-dasharray="60 360" transform="rotate(60)"/>
<circle class="go" r="94.4" pathLength="360" stroke-dasharray="60 360" transform="rotate(60)"/>
<circle class="go" r="86.2" pathLength="360" stroke-dasharray="60 360" transform="rotate(60)"/>
<text class="rl" x="0" y="92.4">Host</text>
<text class="rl" x="0" y="101.1">Countries</text>
<g class="t">
<line x2="86" transform="rotate(317)"/>
<line x2="44" transform="rotate(131)"/>
<circle r="44" pathLength="360" stroke-dasharray="15 360" transform="rotate(127)"/>
<line x1="44" x2="85" transform="rotate(142)"/>
<line x1="44" x2="55" transform="rotate(127)"/>
<circle r="55" pathLength="360" stroke-dasharray="12 360" transform="rotate(122)"/>
<line x1="55" x2="66" transform="rotate(122)"/>
<line x1="55" x2="81" transform="rotate(128)"/>
<line x1="55" x2="62" transform="rotate(134)"/>
<line x2="62" transform="rotate(161)"/>
<line x2="63" transform="rotate(186)"/>
<line x2="38" transform="rotate(168)"/>
<circle r="38" pathLength="360" stroke-dasharray="10 360" transform="rotate(164)"/>
<line x1="38" x2="46" transform="rotate(164)"/>
<line x1="38" x2="44" transform="rotate(174)"/>
<line x2="28" transform="rotate(210)"/>
<circle r="28" pathLength="360" stroke-dasharray="94 360" transform="rotate(196)"/>
<line x1="28" x2="31" transform="rotate(290)"/>
<circle r="31" pathLength="360" stroke-dasharray="95 360" transform="rotate(260)"/>
<line x1="31" x2="34" transform="rotate(355)"/>
<circle r="34" pathLength="360" stroke-dasharray="92 360" transform="rotate(320)"/>
<line x1="28" x2="72" transform="rotate(196)"/>
<circle r="72" pathLength="360" stroke-dasharray="7 360" transform="rotate(192)"/>
<line x1="28" x2="62" transform="rotate(224)"/>
<line x1="28" x2="48" transform="rotate(229)"/>
<circle r="48" pathLength="360" stroke-dasharray="9 360" transform="rotate(225)"/>
<line x1="48" x2="53" transform="rotate(225)"/>
<line x1="48" x2="55" transform="rotate(234)"/>
<line x1="28" x2="64" transform="rotate(239)"/>
<line x1="28" x2="53" transform="rotate(243)"/>
<line x1="28" x2="57" transform="rotate(251)"/>
<line x1="28" x2="50" transform="rotate(258)"/>
<line x1="31" x2="69" transform="rotate(276)"/>
<line x1="31" x2="75" transform="rotate(280)"/>
<line x1="31" x2="78" transform="rotate(285)"/>
<circle r="78" pathLength="360" stroke-dasharray="8 360" transform="rotate(281)"/>
<line x1="31" x2="56" transform="rotate(300)"/>
<line x1="31" x2="62" transform="rotate(310)"/>
<line x1="34" x2="57" transform="rotate(320)"/>
<line x1="34" x2="59" transform="rotate(333)"/>
<line x1="34" x2="50" transform="rotate(340)"/>
<line x1="34" x2="58" transform="rotate(350)"/>
<line x1="34" x2="45" transform="rotate(358)"/>
<line x1="34" x2="55" transform="rotate(5)"/>
<line x1="34" x2="81" transform="rotate(13)"/>
<line x1="34" x2="55" transform="rotate(20)"/>
<line x1="34" x2="60" transform="rotate(27)"/>
<line x1="34" x2="58" transform="rotate(34)"/>
<line x1="34" x2="60" transform="rotate(42)"/>
<line x1="34" x2="65" transform="rotate(52)"/>
</g>
</g>

<!-- Legend C -->
<g id="legend-c">
<text class="hd" x="252" y="540">Host</text>
<rect class="sw bl" x="288" y="550.7" width="28" height="7.8"/>
<text class="lg it" x="321" y="558.4">Physalis floridana</text>
<rect class="sw cy" x="288" y="562" width="28" height="7.8"/>
<text class="lg it" x="321" y="569.7">Solanum tuberosum</text>
<rect class="sw na" x="288" y="573.3" width="28" height="7.8"/>
<text class="lg" x="321" y="581">NA</text>
<text class="hd" x="252" y="592.3">Country</text>
<rect class="sw yl" x="286.7" y="603" width="27.5" height="7.5"/>
<text class="lg" x="318.3" y="610.6">Argentina</text>
<rect class="sw or" x="286.7" y="614.65" width="27.5" height="7.5"/>
<text class="lg" x="318.3" y="622.25">Bangladesh</text>
<rect class="sw pk" x="286.7" y="626.3" width="27.5" height="7.5"/>
<text class="lg" x="318.3" y="633.9">Canada</text>
<rect class="sw dp" x="286.7" y="637.95" width="27.5" height="7.5"/>
<text class="lg" x="318.3" y="645.55">China</text>
<rect class="sw dr" x="286.7" y="649.6" width="27.5" height="7.5"/>
<text class="lg" x="318.3" y="657.2">Colombia</text>
<rect class="sw mg" x="286.7" y="661.25" width="27.5" height="7.5"/>
<text class="lg" x="318.3" y="668.85">Cuba</text>
<rect class="sw li" x="286.7" y="672.9" width="27.5" height="7.5"/>
<text class="lg" x="318.3" y="680.5">Czech Republic</text>
<rect class="sw mp" x="286.7" y="684.55" width="27.5" height="7.5"/>
<text class="lg" x="318.3" y="692.15">Egypt</text>
<rect class="sw pe" x="286.7" y="696.2" width="27.5" height="7.5"/>
<text class="lg" x="318.3" y="703.8">France</text>
<rect class="sw rd" x="286.7" y="707.85" width="27.5" height="7.5"/>
<text class="lg" x="318.3" y="715.45">Germany</text>
<rect class="sw gd" x="286.7" y="719.5" width="27.5" height="7.5"/>
<text class="lg" x="318.3" y="727.1">India</text>
<rect class="sw cr" x="286.7" y="731.15" width="27.5" height="7.5"/>
<text class="lg" x="318.3" y="738.75">Peru</text>
<rect class="sw sc" x="286.7" y="742.8" width="27.5" height="7.5"/>
<text class="lg" x="318.3" y="750.4">Scotland</text>
<rect class="sw sp" x="286.7" y="754.45" width="27.5" height="7.5"/>
<text class="lg" x="318.3" y="762.05">Spain</text>
<rect class="sw zb" x="286.7" y="766.1" width="27.5" height="7.5"/>
<text class="lg" x="318.3" y="773.7">Zimbabwe</text>
<rect class="sw na" x="286.7" y="777.75" width="27.5" height="7.5"/>
<text class="lg" x="318.3" y="785.3">NA</text>
</g>
</svg>
